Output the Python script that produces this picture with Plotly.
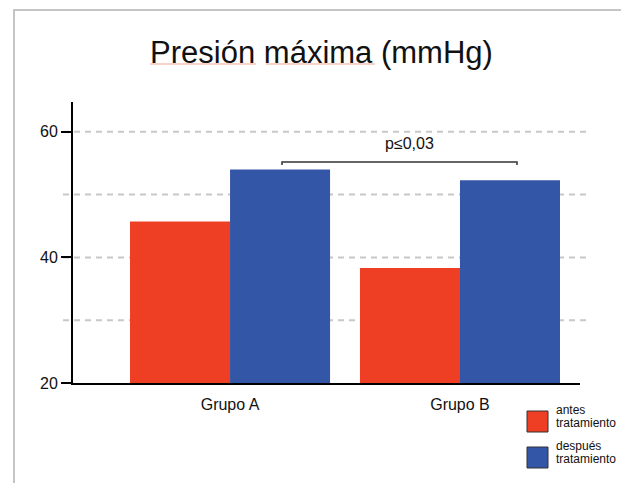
import plotly.graph_objects as go

# ---- data ----
categories = ["Grupo A", "Grupo B"]
series_names = ["antes<br>tratamiento", "después<br>tratamiento"]
antes = [45.7, 38.3]
despues = [54.0, 52.3]
series_values = [antes, despues]
series_colors = ["#EE3E24", "#3456A6"]
y_ticks = [20, 40, 60]
grid_values = [30, 40, 50, 60]
y_range = [20, 64.75]
p_label = "p≤0,03"
bracket_y = 55.2
bracket_drop = 0.5
p_label_y = 58.1
title_text = "Presión máxima (mmHg)"

OFF = 8  # page body margin in the browser
W, H = 629 - OFF, 483 - OFF
ML, MR, MT, MB = 73 - OFF, 49, 102 - OFF, 100
PW = W - ML - MR
PH = H - MT - MB


def px_x(px):
    return (px - OFF - ML) / PW


def px_y(py):
    return (H - MB - (py - OFF)) / PH


fig = go.Figure()
for name, vals, col in zip(series_names, series_values, series_colors):
    fig.add_trace(go.Bar(x=categories, y=vals, name=name,
                         marker=dict(color=col, line=dict(width=0)),
                         showlegend=False))

shapes = []
# outer frame (slide border)
shapes.append(dict(type="path", xref="paper", yref="paper",
                   path=f"M {px_x(14)},{px_y(490)} L {px_x(14)},{px_y(10)} L {px_x(640)},{px_y(10)}",
                   line=dict(color="#b3b3b3", width=1.5), layer="below"))
# dashed gridlines
for g in grid_values:
    shapes.append(dict(type="line", xref="paper", yref="y",
                       x0=px_x(63), x1=px_x(590), y0=g, y1=g,
                       line=dict(color="#c8c8c8", width=2, dash="6px,5px"),
                       layer="below"))
# significance bracket
bx0, bx1 = 0.226, 1.248
shapes.append(dict(type="path", xref="x", yref="y",
                   path=(f"M {bx0},{bracket_y - bracket_drop} L {bx0},{bracket_y} "
                         f"L {bx1},{bracket_y} L {bx1},{bracket_y - bracket_drop}"),
                   line=dict(color="#333333", width=1.5)))
# spell-check underlines under title words
for a, b in [(150, 256), (266, 375)]:
    shapes.append(dict(type="line", xref="paper", yref="paper",
                       x0=px_x(a), x1=px_x(b), y0=px_y(64), y1=px_y(64),
                       line=dict(color="#f2a48f", width=1)))

annotations = [dict(text=p_label, x=px_x(409), xref="paper", y=p_label_y, yref="y",
                    showarrow=False, font=dict(size=16, color="#111111"),
                    xanchor="center", yanchor="middle")]

# custom legend
leg_boxes = [(411, 432), (447, 468)]
for (t, b), name, col in zip(leg_boxes, series_names, series_colors):
    shapes.append(dict(type="rect", xref="paper", yref="paper",
                       x0=px_x(527), x1=px_x(548), y0=px_y(b), y1=px_y(t),
                       fillcolor=col, line=dict(color="#333333", width=1)))
    lines = name.split("<br>")
    for i, ln in enumerate(lines):
        cy = t - 1 + i * 13
        annotations.append(dict(text=ln, xref="paper", yref="paper",
                                x=px_x(554), y=px_y(cy), showarrow=False,
                                xanchor="left", yanchor="middle",
                                font=dict(size=12, color="#111111")))

fig.update_layout(
    width=W, height=H,
    margin=dict(l=ML, r=MR, t=MT, b=MB, pad=0),
    paper_bgcolor="white", plot_bgcolor="white",
    font=dict(family="Liberation Sans, Arial, sans-serif", color="#111111"),
    title=dict(text=title_text, x=(321.5 - OFF) / W, xanchor="center",
               xref="container", yref="container", y=1 - (52 - OFF) / H, yanchor="middle",
               font=dict(size=31, color="#111111")),
    barmode="group", bargap=0.13, bargroupgap=0,
    showlegend=False,
    shapes=shapes, annotations=annotations,
    xaxis=dict(range=[-0.683, 1.522], showline=True, linecolor="black", linewidth=2,
               ticks="", showgrid=False, zeroline=False, tickfont=dict(size=16),
               ticklabelstandoff=6, fixedrange=True),
    yaxis=dict(range=y_range, tickvals=y_ticks, showline=True, linecolor="black",
               linewidth=2, ticks="outside", ticklen=10, tickwidth=1.5,
               tickcolor="black", showgrid=False, zeroline=False,
               tickfont=dict(size=16), fixedrange=True),
)

fig.write_html("out.html")
